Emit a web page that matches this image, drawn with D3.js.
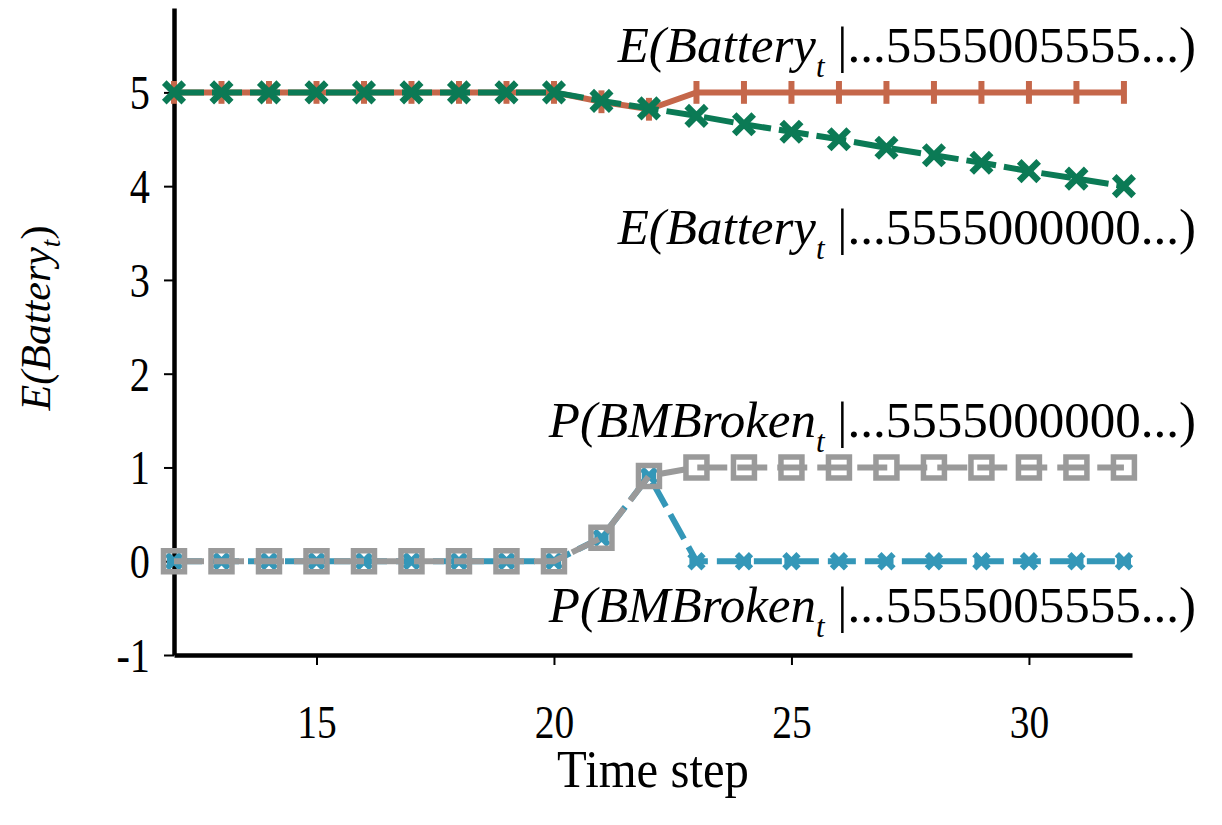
<!DOCTYPE html>
<html>
<head>
<meta charset="utf-8">
<script src="https://cdn.jsdelivr.net/npm/d3@7"></script>
<style>
  body { margin: 0; background: #fff; }
  text { font-family: "Liberation Serif", "Times New Roman", serif; fill: #000; }
</style>
</head>
<body>
<div id="chart"></div>
<script>
// time steps
var steps = d3.range(12, 33);

// series values
var battNormal = [5,5,5,5,5,5,5,5,5,4.9,4.82,5,5,5,5,5,5,5,5,5,5];
var battBroken = [5,5,5,5,5,5,5,5,5,4.91,4.83,4.75,4.66,4.58,4.5,4.41,4.33,4.25,4.16,4.08,4.0];
var brokenPersist = [0,0,0,0,0,0,0,0,0,0.25,0.91,1,1,1,1,1,1,1,1,1,1];
var brokenRecover = [0,0,0,0,0,0,0,0,0,0.25,0.91,0,0,0,0,0,0,0,0,0,0];

var xTicks = [15, 20, 25, 30];
var yTicks = [-1, 0, 1, 2, 3, 4, 5];

// set the dimensions of the graph
var W = 1222, H = 825;
var x0 = 174, x1 = 1132, yBottom = 655, yTop = 8;

var svg = d3.select("#chart")
  .append("svg")
  .attr("width", W)
  .attr("height", H);

var x = d3.scaleLinear().domain([12, 32.17]).range([x0, x1]);
var y = d3.scaleLinear().domain([-1, 5.9]).range([yBottom, yTop]);

// tick labels are narrow in the original, squeeze them a bit
var squeeze = 0.84;

// axes
var xAxis = svg.append("g")
  .attr("transform", "translate(0," + yBottom + ")")
  .call(d3.axisBottom(x).tickValues(xTicks).tickFormat(String).tickSize(10).tickPadding(40).tickSizeOuter(0));
xAxis.select(".domain").attr("stroke-width", 4.5);
xAxis.selectAll(".tick line").attr("stroke-width", 2);
xAxis.selectAll("text").style("font-size", "47px").attr("transform", "scale(" + squeeze + ",1)");

var yAxis = svg.append("g")
  .attr("transform", "translate(" + x0 + ",0)")
  .call(d3.axisLeft(y).tickValues(yTicks).tickFormat(String).tickSize(10).tickPadding(14).tickSizeOuter(0));
yAxis.select(".domain").attr("stroke-width", 4.5);
yAxis.selectAll(".tick line").attr("stroke-width", 2);
yAxis.selectAll("text")
  .style("font-size", "48px")
  .attr("x", -24 / squeeze)
  .attr("dy", "0.34em")
  .attr("transform", "scale(" + squeeze + ",1)");

// axis titles
svg.append("text")
  .attr("transform", "translate(" + ((x0 + x1) / 2) + ",787) scale(0.92,1)")
  .attr("text-anchor", "middle")
  .style("font-size", "53px")
  .text("Time step");

var yt = svg.append("text")
  .attr("transform", "translate(50,318) rotate(-90)")
  .attr("text-anchor", "middle")
  .style("font-size", "42px")
  .style("font-style", "italic");
yt.append("tspan").text("E(Battery");
yt.append("tspan").attr("font-size", "27px").attr("dy", 10).text("t");
yt.append("tspan").attr("dy", -10).style("font-style", "normal").text(")");

// series drawing
function series(vals) {
  return steps.map(function(s, i) { return {t: s, v: vals[i]}; });
}
var line = d3.line().x(function(d) { return x(d.t); }).y(function(d) { return y(d.v); });

function drawLine(vals, color, dash) {
  svg.append("path")
    .datum(series(vals))
    .attr("d", line)
    .attr("fill", "none")
    .attr("stroke", color)
    .attr("stroke-width", 6)
    .attr("stroke-dasharray", dash);
}

function drawMarkers(vals, color, type, size, sw) {
  svg.append("g")
    .selectAll("path")
    .data(series(vals))
    .enter()
    .append("path")
      .attr("transform", function(d) { return "translate(" + x(d.t) + "," + y(d.v) + ")"; })
      .attr("d", d3.symbol().type(type).size(size))
      .attr("fill", "none")
      .attr("stroke", color)
      .attr("stroke-width", sw);
}

var orange = "#C5674A", green = "#0B7A55", blue = "#3497B8", grey = "#9A9A9A";

// custom marker shapes
var vbar = { draw: function(ctx, size) { var r = Math.sqrt(size) / 2; ctx.moveTo(0, -r); ctx.lineTo(0, r); } };
var xMark = { draw: function(ctx, size) { var r = Math.sqrt(size) / 2; ctx.moveTo(-r, -r); ctx.lineTo(r, r); ctx.moveTo(-r, r); ctx.lineTo(r, -r); } };
var starMark = { draw: function(ctx, size) { var r = Math.sqrt(size) / 2; ctx.moveTo(-r, -r); ctx.lineTo(r, r); ctx.moveTo(-r, r); ctx.lineTo(r, -r); ctx.moveTo(-r, 0); ctx.lineTo(r, 0); } };

// blue then grey
drawLine(brokenRecover, blue, "28,9");
drawMarkers(brokenRecover, blue, starMark, 200, 6);
drawLine(brokenPersist, grey, "30,10");
drawMarkers(brokenPersist, grey, d3.symbolSquare, 440, 5.5);

// orange then green
drawLine(battNormal, orange, null);
drawMarkers(battNormal, orange, vbar, 520, 6);
drawLine(battBroken, green, "30,8");
drawMarkers(battBroken, green, xMark, 380, 6.5);

// series labels
var labels = [
  {pre: "E(Battery", post: "|...5555005555...)", y: 62},
  {pre: "E(Battery", post: "|...5555000000...)", y: 244},
  {pre: "P(BMBroken", post: "|...5555000000...)", y: 437},
  {pre: "P(BMBroken", post: "|...5555005555...)", y: 622}
];
labels.forEach(function(l) {
  var t = svg.append("text")
    .attr("x", 1196)
    .attr("y", l.y)
    .attr("text-anchor", "end")
    .style("font-size", "51px");
  t.append("tspan").style("font-style", "italic").text(l.pre);
  t.append("tspan").style("font-style", "italic").attr("font-size", "31px").attr("dy", 15).text("t");
  t.append("tspan").attr("dy", -15).text(" " + l.post);
});
</script>
</body>
</html>
